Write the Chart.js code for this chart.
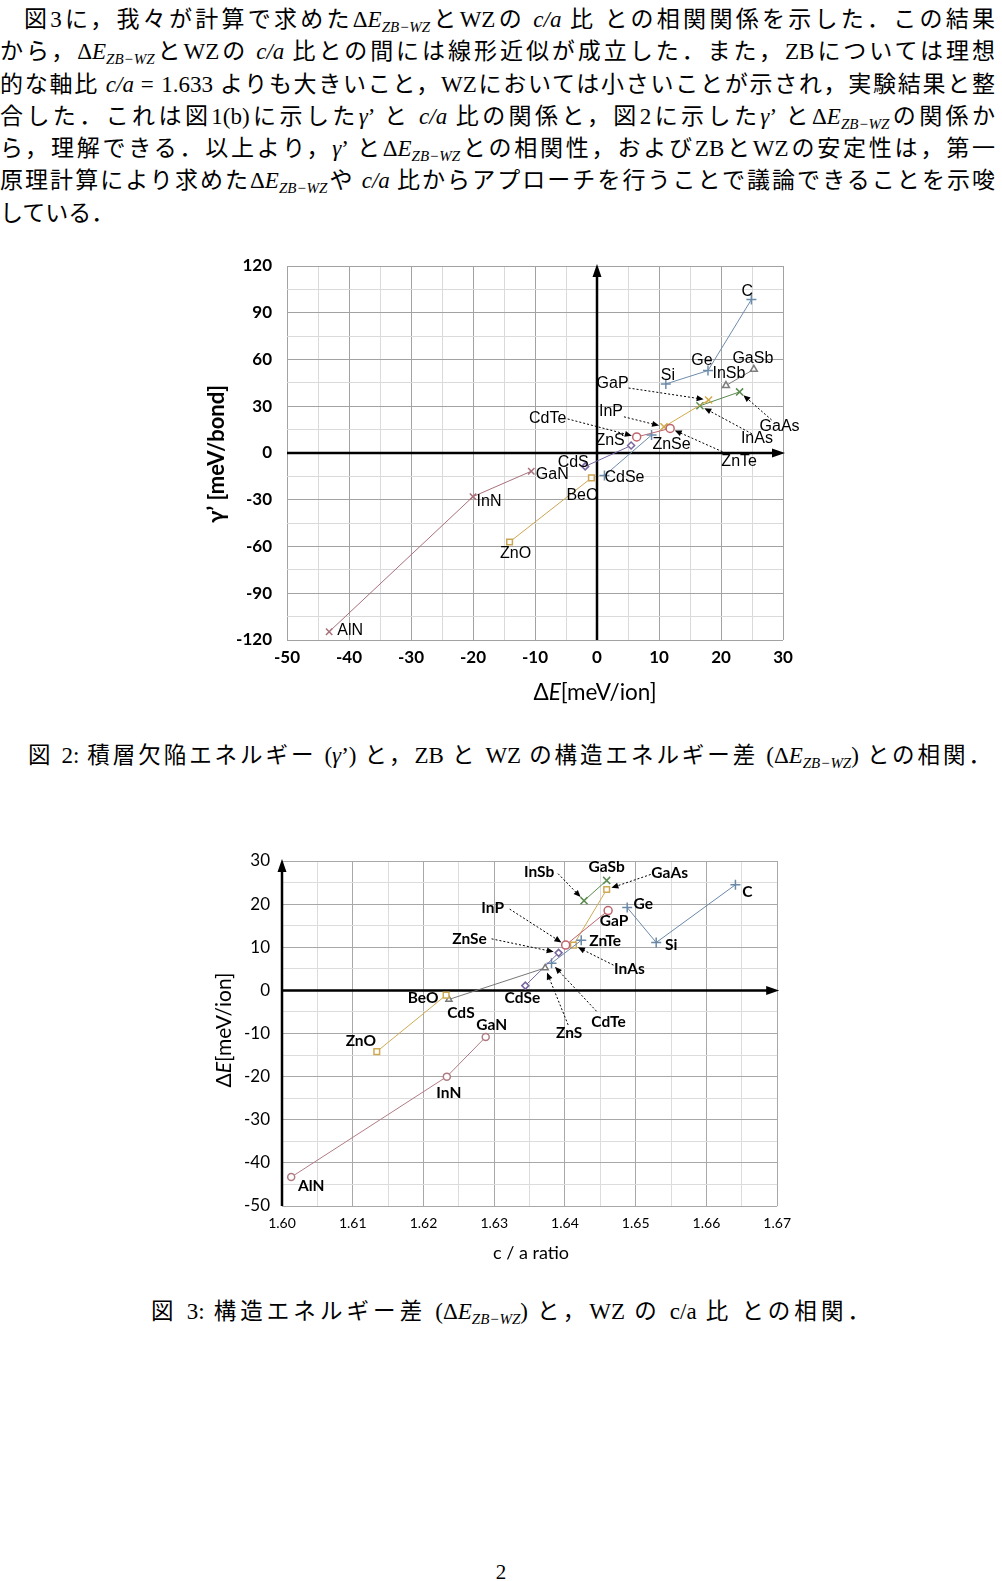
<!DOCTYPE html>
<html>
<head>
<meta charset="utf-8">
<script src="https://cdn.jsdelivr.net/npm/chart.js@4.4.1/dist/chart.umd.min.js"></script>
<style>
  body { margin: 0; background: #fff; }
  #page { position: relative; width: 1002px; height: 1581px; overflow: hidden; background: #fff; }
  .txt { position: absolute; left: 0; top: 1px; width: 995px; font-family: "Noto Sans CJK JP"; font-size: 23px; color: #000; }
  .ln { height: 32.3px; line-height: 32.3px; white-space: nowrap; text-align: justify; text-align-last: justify; }
  .ln.first { padding-left: 24px; }
  .ln.last { text-align-last: left; }
  .r { font-family: "Liberation Serif", serif; font-size: 23px; }
  .m { font-family: "Liberation Serif", serif; font-style: italic; font-size: 23px; }
  .m sub, .r sub { font-size: 15px; font-style: italic; vertical-align: -5px; line-height: 0; }
  .cap { position: absolute; font-family: "Noto Sans CJK JP"; font-size: 22.5px; white-space: nowrap;
         text-align: justify; text-align-last: justify; line-height: 30px; height: 30px; }
  .pno { position: absolute; left: 0; width: 1002px; top: 1560px; text-align: center;
         font-family: "Liberation Serif", serif; font-size: 21px; }
  canvas { position: absolute; }
</style>
</head>
<body>
<div id="page">
  <div class="txt">
    <div class="ln first">図<span class="r">3</span>に，我々が計算で求めた<span class="r">Δ<i>E</i><sub>ZB−WZ</sub></span>と<span class="r">WZ</span>の <span class="m">c/a</span> 比 との相関関係を示した．この結果</div>
    <div class="ln">から，<span class="r">Δ<i>E</i><sub>ZB−WZ</sub></span>と<span class="r">WZ</span>の <span class="m">c/a</span> 比との間には線形近似が成立した．また，<span class="r">ZB</span>については理想</div>
    <div class="ln">的な軸比 <span class="m">c/a</span> <span class="r">= 1.633</span> よりも大きいこと，<span class="r">WZ</span>においては小さいことが示され，実験結果と整</div>
    <div class="ln">合した．これは図<span class="r">1(b)</span>に示した<span class="m">γ</span><span class="r">’</span> と <span class="m">c/a</span> 比の関係と，図<span class="r">2</span>に示した<span class="m">γ</span><span class="r">’</span> と<span class="r">Δ<i>E</i><sub>ZB−WZ</sub></span>の関係か</div>
    <div class="ln">ら，理解できる．以上より，<span class="m">γ</span><span class="r">’</span> と<span class="r">Δ<i>E</i><sub>ZB−WZ</sub></span>との相関性，および<span class="r">ZB</span>と<span class="r">WZ</span>の安定性は，第一</div>
    <div class="ln">原理計算により求めた<span class="r">Δ<i>E</i><sub>ZB−WZ</sub></span>や <span class="m">c/a</span> 比からアプローチを行うことで議論できることを示唆</div>
    <div class="ln last">している．</div>
  </div>

  <canvas id="fig2" width="600" height="480" style="left:200px; top:240px;"></canvas>
  <div class="cap" style="left:28px; width:963px; top:738px;">図 <span class="r">2:</span> 積層欠陥エネルギー <span class="r">(<i>γ</i>’)</span> と，<span class="r">ZB</span> と <span class="r">WZ</span> の構造エネルギー差 <span class="r">(Δ<i>E</i><sub>ZB−WZ</sub>)</span> との相関．</div>

  <canvas id="fig3" width="600" height="430" style="left:200px; top:835px;"></canvas>
  <div class="cap" style="left:151px; width:719px; top:1294px;">図 <span class="r">3:</span> 構造エネルギー差 <span class="r">(Δ<i>E</i><sub>ZB−WZ</sub>)</span> と，<span class="r">WZ</span> の <span class="r">c/a</span> 比 との相関．</div>

  <div class="pno">2</div>
</div>

<script>
// compounds, same order in every value array
const names = ['AlN', 'InN', 'GaN', 'ZnO', 'BeO', 'CdS', 'ZnS', 'CdSe', 'ZnSe', 'CdTe',
               'ZnTe', 'InP', 'GaP', 'InAs', 'GaAs', 'InSb', 'GaSb', 'Si', 'Ge', 'C'];

// fig 2: ΔE [meV/ion] vs γ' [meV/bond]
const fig2DeltaE = [-43.2, -20.0, -10.6, -14.1, -0.9, -1.9, 5.5, 1.2, 8.8, 6.4,
                    11.8, 10.8, 18.0, 16.6, 23.0, 20.8, 25.3, 11.1, 17.9, 24.9];
const fig2Gamma  = [-114.7, -28.0, -11.7, -57.1, -16.0, -8.6, 4.8, -14.5, 11.5, 10.3,
                    15.8, 16.8, 34.0, 30.3, 39.2, 43.3, 53.7, 44.3, 52.9, 98.5];

// fig 3: c/a ratio vs ΔE [meV/ion]
const fig3Ratio  = [1.6013, 1.6233, 1.6288, 1.6134, 1.6232, 1.6236, 1.6372, 1.6344, 1.6391, 1.6381,
                    1.6423, 1.6401, 1.6461, 1.6412, 1.6459, 1.6427, 1.6459, 1.6529, 1.6488, 1.6641];
const fig3DeltaE = [-43.3, -20.0, -10.8, -14.2, -1.1, -2.1, 5.2, 1.1, 8.7, 6.3,
                    11.6, 10.5, 18.5, 10.5, 23.4, 20.8, 25.5, 11.1, 19.2, 24.5];

// groups joined by a line
const nitrides = ['AlN', 'InN', 'GaN'];
const oxides = ['ZnO', 'BeO'];
const sulfides = ['CdS', 'ZnS'];
const selenides = ['CdSe', 'ZnSe'];
const tellurides = ['CdTe', 'ZnTe'];
const phosphides = ['InP', 'GaP'];
const arsenides = ['InAs', 'GaAs'];
const antimonides = ['InSb', 'GaSb'];
const groupIV = ['Si', 'Ge', 'C'];

// axis ticks
const fig2XTicks = [-50, -40, -30, -20, -10, 0, 10, 20, 30];
const fig2YTicks = [-120, -90, -60, -30, 0, 30, 60, 90, 120];
const fig3XTicks = ['1.60', '1.61', '1.62', '1.63', '1.64', '1.65', '1.66', '1.67'];
const fig3YTicks = [-50, -40, -30, -20, -10, 0, 10, 20, 30];

// label placement: [name, dx, dy] in px from the point
const fig2Labels = [
  ['C', -4, -8], ['Ge', -6, -10], ['Si', 2, -8], ['GaSb', -1, -11], ['InSb', 3, -12],
  ['GaP', -96, -16], ['InP', -53, -15], ['CdTe', -89, -18], ['ZnS', -21, -5], ['ZnSe', 20, 10],
  ['GaAs', 40, 35], ['InAs', 57, 33], ['ZnTe', 69, 33], ['CdS', -12, -4], ['GaN', 21, 3],
  ['CdSe', 20, 2], ['InN', 16, 5], ['AlN', 21, -1], ['ZnO', 6, 12], ['BeO', -9, 18]
];
// dotted arrows: [name, tailDx, tailDy]
const fig2Arrows = [
  ['GaP', -80, -12], ['InP', -40, -10], ['CdTe', -69, -18],
  ['GaAs', 32, 28], ['InAs', 52, 28], ['ZnTe', 56, 25]
];
const fig3Labels = [
  ['InSb', -45, -29], ['GaSb', 0, -13], ['GaAs', 63, -16], ['C', 12, 7], ['Ge', 16, -4],
  ['GaP', 6, 10], ['Si', 15, 2], ['ZnTe', 24, 1], ['InAs', 56, 24], ['InP', -73, -37],
  ['ZnSe', -89, -14], ['CdTe', 57, 59], ['ZnS', 24, 65], ['CdSe', -3, 12], ['BeO', -23, 3],
  ['CdS', 12, 14], ['GaN', 6, -12], ['ZnO', -16, -11], ['InN', 2, 16], ['AlN', 20, 9]
];
const fig3Arrows = [
  ['InSb', -26, -27], ['GaAs', 44, -15], ['InAs', 40, 20], ['InP', -56, -36],
  ['ZnSe', -67, -14], ['CdTe', 45, 48], ['ZnS', 23, 57]
];

function points(group, xs, ys) {
  return group.map(n => {
    const i = names.indexOf(n);
    return { x: xs[i], y: ys[i] };
  }).sort((a, b) => a.x - b.x);
}

function series(group, xs, ys, color, style, radius) {
  return {
    data: points(group, xs, ys),
    showLine: true,
    borderColor: color,
    borderWidth: 1,
    pointStyle: style,
    pointRadius: radius || 4,
    pointBorderColor: color,
    pointBackgroundColor: '#fff',
    pointBorderWidth: 1.5
  };
}

function arrowHead(ctx, x, y, ang, len, half) {
  ctx.beginPath();
  ctx.moveTo(x, y);
  ctx.lineTo(x - len * Math.cos(ang) + half * Math.sin(ang), y - len * Math.sin(ang) - half * Math.cos(ang));
  ctx.lineTo(x - len * Math.cos(ang) - half * Math.sin(ang), y - len * Math.sin(ang) + half * Math.cos(ang));
  ctx.closePath();
  ctx.fill();
}

function richText(ctx, parts, cx, cy, angle, font) {
  ctx.save();
  ctx.translate(cx, cy);
  ctx.rotate(angle);
  ctx.textBaseline = 'middle';
  ctx.textAlign = 'left';
  let w = 0;
  parts.forEach(p => { ctx.font = (p[1] ? 'italic ' : '') + font; w += ctx.measureText(p[0]).width; });
  let x = -w / 2;
  parts.forEach(p => {
    ctx.font = (p[1] ? 'italic ' : '') + font;
    ctx.fillText(p[0], x, 0);
    x += ctx.measureText(p[0]).width;
  });
  ctx.restore();
}

function annotate(o) {
  const pix = (chart, n) => {
    const i = names.indexOf(n);
    return [chart.scales.x.getPixelForValue(o.xs[i]), chart.scales.y.getPixelForValue(o.ys[i])];
  };
  return {
    id: 'annotate',
    beforeDatasetsDraw(chart) {
      const ctx = chart.ctx, a = chart.chartArea;
      const y0 = chart.scales.y.getPixelForValue(0);
      const x0 = chart.scales.x.getPixelForValue(o.yAxisAt);
      ctx.save();
      ctx.strokeStyle = '#000';
      ctx.fillStyle = '#000';
      ctx.lineWidth = 2.5;
      ctx.beginPath();
      ctx.moveTo(a.left, y0); ctx.lineTo(a.right - 6, y0);
      ctx.moveTo(x0, a.bottom); ctx.lineTo(x0, a.top + 6);
      ctx.stroke();
      arrowHead(ctx, a.right + 2, y0, 0, 13, 4.5);
      arrowHead(ctx, x0, a.top - 2, -Math.PI / 2, 13, 4.5);
      ctx.restore();
    },
    afterDatasetsDraw(chart) {
      const ctx = chart.ctx;
      ctx.save();
      ctx.fillStyle = '#000';
      ctx.strokeStyle = '#000';
      ctx.lineWidth = 1;
      o.arrows.forEach(([n, tx, ty]) => {
        const [px, py] = pix(chart, n);
        const sx = px + tx, sy = py + ty;
        const ang = Math.atan2(py - sy, px - sx);
        const ex = px - 5 * Math.cos(ang), ey = py - 5 * Math.sin(ang);
        ctx.setLineDash([2, 2]);
        ctx.beginPath();
        ctx.moveTo(sx, sy);
        ctx.lineTo(ex - 5 * Math.cos(ang), ey - 5 * Math.sin(ang));
        ctx.stroke();
        ctx.setLineDash([]);
        arrowHead(ctx, ex, ey, ang, 7, 3);
      });
      ctx.font = o.labelFont;
      ctx.textAlign = 'center';
      ctx.textBaseline = 'middle';
      o.labels.forEach(([n, dx, dy]) => {
        const [px, py] = pix(chart, n);
        ctx.fillText(n, px + dx, py + dy);
      });
      ctx.restore();
    },
    afterDraw(chart) {
      const ctx = chart.ctx;
      ctx.fillStyle = '#000';
      o.titles.forEach(t => richText(ctx, t.parts, t.x, t.y, t.angle, t.font));
    }
  };
}

function gridColor(isMajor, major, minor) {
  return ctx => (ctx.tick && isMajor(ctx.tick.value) ? major : minor);
}

function makeCharts() {
  Chart.defaults.color = '#000';

  // ---- figure 2 ----
  new Chart(document.getElementById('fig2'), {
    type: 'scatter',
    data: {
      datasets: [
        series(nitrides, fig2DeltaE, fig2Gamma, '#a8707a', 'crossRot', 4.5),
        series(oxides, fig2DeltaE, fig2Gamma, '#cba552', 'rect', 4),
        series(sulfides, fig2DeltaE, fig2Gamma, '#7766a0', 'rectRot', 3.5),
        series(selenides, fig2DeltaE, fig2Gamma, '#6d8cac', 'cross', 5),
        series(tellurides, fig2DeltaE, fig2Gamma, '#c0666e', 'circle', 4),
        series(phosphides, fig2DeltaE, fig2Gamma, '#d2aa4a', 'crossRot', 5),
        series(arsenides, fig2DeltaE, fig2Gamma, '#5a8a4e', 'crossRot', 5),
        series(antimonides, fig2DeltaE, fig2Gamma, '#7c7c7c', 'triangle', 4),
        series(groupIV, fig2DeltaE, fig2Gamma, '#6d8cac', 'cross', 5)
      ]
    },
    options: {
      responsive: false,
      animation: false,
      devicePixelRatio: 1,
      layout: { padding: { left: 0, right: 17, top: 26, bottom: 0 } },
      plugins: { legend: { display: false }, tooltip: { enabled: false } },
      scales: {
        x: {
          type: 'linear', min: -50, max: 30,
          afterFit: s => { s.height = 80; },
          border: { display: false },
          grid: { drawTicks: false, lineWidth: 1,
                  color: gridColor(v => fig2XTicks.includes(v), '#a2a2a2', '#dadada') },
          ticks: { stepSize: 5, autoSkip: false, maxRotation: 0, padding: 7,
                   font: { family: 'Lato', size: 17, weight: 'bold' },
                   callback: v => (fig2XTicks.includes(v) ? String(v) : '') }
        },
        y: {
          type: 'linear', min: -120, max: 120,
          afterFit: s => { s.width = 87; },
          border: { display: false },
          grid: { drawTicks: false, lineWidth: 1,
                  color: gridColor(v => fig2YTicks.includes(v), '#a2a2a2', '#dadada') },
          ticks: { stepSize: 15, autoSkip: false, padding: 15,
                   font: { family: 'Lato', size: 17, weight: 'bold' },
                   callback: v => (fig2YTicks.includes(v) ? String(v) : '') }
        }
      }
    },
    plugins: [annotate({
      xs: fig2DeltaE, ys: fig2Gamma, yAxisAt: 0,
      labels: fig2Labels, arrows: fig2Arrows,
      labelFont: '16px "Liberation Sans"',
      titles: [
        { parts: [['γ’ [meV/bond]', false]], x: 17, y: 214, angle: -Math.PI / 2, font: 'bold 22px Lato' },
        { parts: [['Δ', false], ['E', true], ['[meV/ion]', false]], x: 395, y: 453, angle: 0, font: '22.5px Lato' }
      ]
    })]
  });

  // ---- figure 3 ----
  const isMajor3 = v => fig3XTicks.includes(v.toFixed(4).slice(0, 4)) && Math.abs(v * 100 - Math.round(v * 100)) < 1e-6;
  new Chart(document.getElementById('fig3'), {
    type: 'scatter',
    data: {
      datasets: [
        series(nitrides, fig3Ratio, fig3DeltaE, '#b07c84', 'circle', 3.5),
        series(oxides, fig3Ratio, fig3DeltaE, '#d0aa52', 'rect', 4),
        series(sulfides, fig3Ratio, fig3DeltaE, '#777777', 'triangle', 3.5),
        series(selenides, fig3Ratio, fig3DeltaE, '#7866a0', 'rectRot', 3.5),
        series(tellurides, fig3Ratio, fig3DeltaE, '#6a88a8', 'cross', 5),
        series(phosphides, fig3Ratio, fig3DeltaE, '#c0646e', 'circle', 4),
        series(arsenides, fig3Ratio, fig3DeltaE, '#d0aa52', 'rect', 4),
        series(antimonides, fig3Ratio, fig3DeltaE, '#5a8a4e', 'crossRot', 5),
        series(groupIV, fig3Ratio, fig3DeltaE, '#6a88a8', 'cross', 5)
      ]
    },
    options: {
      responsive: false,
      animation: false,
      devicePixelRatio: 1,
      layout: { padding: { left: 0, right: 19, top: 26, bottom: 0 } },
      plugins: { legend: { display: false }, tooltip: { enabled: false } },
      scales: {
        x: {
          type: 'linear', min: 1.60, max: 1.67,
          afterFit: s => { s.height = 59; },
          border: { display: false },
          grid: { drawTicks: false, lineWidth: 1, color: gridColor(isMajor3, '#a8a8a8', '#dcdcdc') },
          ticks: { stepSize: 0.005, autoSkip: false, maxRotation: 0, padding: 9,
                   font: { family: 'Lato', size: 14 },
                   callback: v => (isMajor3(v) ? v.toFixed(2) : '') }
        },
        y: {
          type: 'linear', min: -50, max: 30,
          afterFit: s => { s.width = 82; },
          border: { display: false },
          grid: { drawTicks: false, lineWidth: 1,
                  color: gridColor(v => fig3YTicks.includes(v), '#a8a8a8', '#dcdcdc') },
          ticks: { stepSize: 5, autoSkip: false, padding: 12,
                   font: { family: 'Lato', size: 17 },
                   callback: v => (fig3YTicks.includes(v) ? String(v) : '') }
        }
      }
    },
    plugins: [annotate({
      xs: fig3Ratio, ys: fig3DeltaE, yAxisAt: 1.60,
      labels: fig3Labels, arrows: fig3Arrows,
      labelFont: 'bold 15.5px Lato',
      titles: [
        { parts: [['Δ', false], ['E', true], ['[meV/ion]', false]], x: 24, y: 195, angle: -Math.PI / 2, font: '21px Lato' },
        { parts: [['c / a ratio', false]], x: 331, y: 418, angle: 0, font: '18px Lato' }
      ]
    })]
  });
}

document.fonts.ready.then(makeCharts);
</script>
</body>
</html>
